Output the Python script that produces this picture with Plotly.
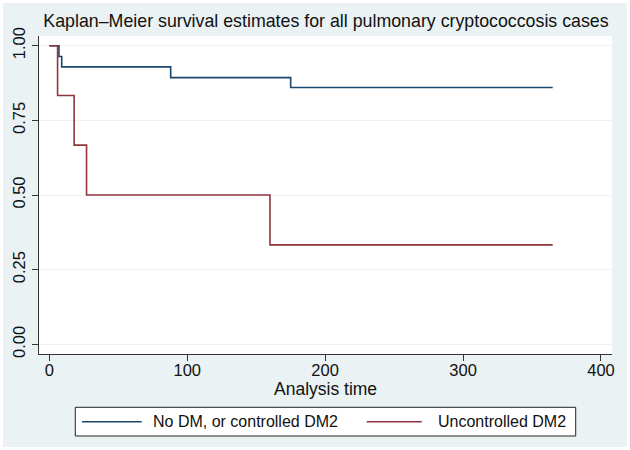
import plotly.graph_objects as go

# ---- data ----
t_nodm = [0, 7, 9, 88, 175, 365]
s_nodm = [1.0, 0.964, 0.929, 0.893, 0.860, 0.860]
t_unc = [0, 6, 18, 27, 160, 365]
s_unc = [1.0, 0.833, 0.667, 0.500, 0.333, 0.333]
name_nodm = "No DM, or controlled DM2"
name_unc = "Uncontrolled DM2"
y_ticks = [0, 0.25, 0.5, 0.75, 1.0]
y_ticktext = ["0.00", "0.25", "0.50", "0.75", "1.00"]
x_ticks = [0, 100, 200, 300, 400]

BLUE = "#1a476f"
RED = "#90353b"
BG = "#eaf2f3"
FONT = "Liberation Sans, Arial, sans-serif"

W, H = 630, 450
L, R, T, B = 39, 18, 36, 96
pw, ph = W - L - R, H - T - B


def px(xp):
    return (xp - L) / pw


def py(yp):
    return (H - B - yp) / ph


fig = go.Figure()
fig.add_trace(go.Scatter(x=t_nodm, y=s_nodm, mode="lines", line_shape="hv",
                         line=dict(color=BLUE, width=1.6), name=name_nodm, showlegend=False))
fig.add_trace(go.Scatter(x=t_unc, y=s_unc, mode="lines", line_shape="hv",
                         line=dict(color=RED, width=1.6), name=name_unc, showlegend=False))

shapes = [
    # legend box
    dict(type="rect", xref="paper", yref="paper", x0=px(75.3), x1=px(575.7),
         y0=py(436), y1=py(407.3), fillcolor="white", line=dict(color="#222", width=1)),
    dict(type="line", xref="paper", yref="paper", x0=px(82), x1=px(141.7),
         y0=py(421.7), y1=py(421.7), line=dict(color=BLUE, width=1.6)),
    dict(type="line", xref="paper", yref="paper", x0=px(366.7), x1=px(421.7),
         y0=py(421.7), y1=py(421.7), line=dict(color=RED, width=1.6)),
    # white outer border
    dict(type="rect", xref="paper", yref="paper", x0=px(0), x1=px(W),
         y0=py(H), y1=py(0), line=dict(color="white", width=6), layer="above"),
]

annotations = [
    dict(text=name_nodm, xref="paper", yref="paper", x=px(151), y=py(421.7),
         xanchor="left", yanchor="middle", showarrow=False,
         font=dict(family=FONT, size=16, color="#111")),
    dict(text=name_unc, xref="paper", yref="paper", x=px(435.5), y=py(421.7),
         xanchor="left", yanchor="middle", showarrow=False,
         font=dict(family=FONT, size=16, color="#111")),
    dict(text="Analysis time", xref="paper", yref="paper", x=0.5, y=py(389),
         xanchor="center", yanchor="middle", showarrow=False,
         font=dict(family=FONT, size=17.5, color="#111")),
]

fig.update_layout(
    width=W, height=H,
    margin=dict(l=L, r=R, t=T, b=B, pad=0, autoexpand=False),
    paper_bgcolor=BG, plot_bgcolor="white",
    font=dict(family=FONT, size=16, color="#111"),
    title=dict(text="Kaplan\u2013Meier survival estimates for all pulmonary cryptococcosis cases",
               x=(44 + 608) / 2 / W, xanchor="center", y=1 - 21 / H, yanchor="middle",
               xref="container", yref="container", automargin=False,
               font=dict(family=FONT, size=17.8, color="#111")),
    shapes=shapes, annotations=annotations,
    showlegend=False,
)
fig.update_xaxes(range=[-7.47, 408.0], tickvals=x_ticks, ticks="outside", ticklen=6,
                 tickcolor="#333", showline=True, linecolor="#333", linewidth=1,
                 showgrid=False, zeroline=False, automargin=False,
                 ticklabelstandoff=-5,
                 tickfont=dict(size=16.5))
fig.update_yaxes(range=[-0.0325, 1.0325], tickvals=y_ticks, ticktext=y_ticktext,
                 ticks="outside", ticklen=6, tickcolor="#333", tickangle=-90,
                 showline=True, linecolor="#333", linewidth=1, automargin=False,
                 showgrid=True, gridcolor=BG, gridwidth=1, zeroline=False,
                 tickfont=dict(size=16.5))

fig.write_html("out.html", config={"displayModeBar": False},
               post_script="document.body.style.margin='0';document.body.style.padding='0';")
